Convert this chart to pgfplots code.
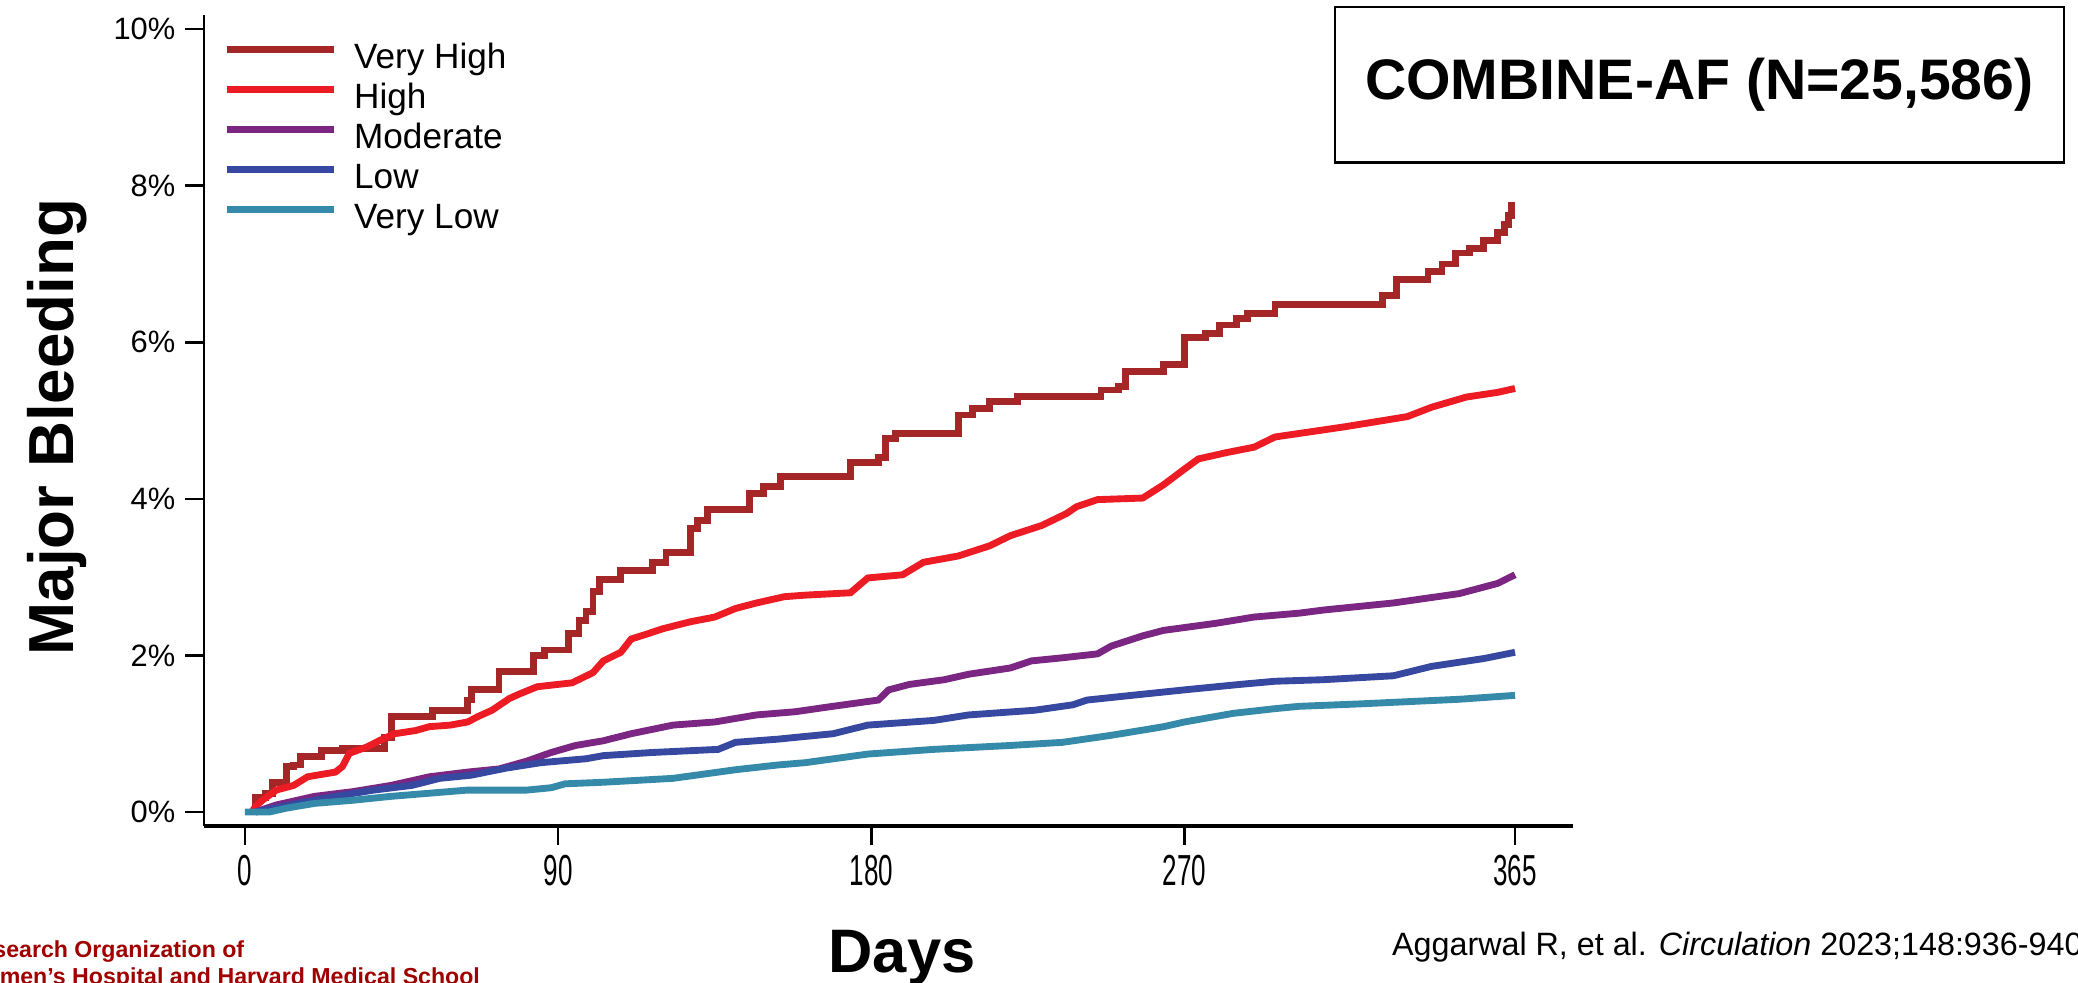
\documentclass[border=0pt]{standalone}
\usepackage{pgfplots}
\pgfplotsset{compat=1.18}
\usepackage{fontspec}
\setmainfont{Liberation Sans}
\definecolor{vhigh}{RGB}{165,38,38}
\definecolor{high}{RGB}{237,28,36}
\definecolor{moder}{RGB}{122,38,130}
\definecolor{low}{RGB}{55,72,160}
\definecolor{vlow}{RGB}{52,138,168}
\definecolor{footred}{RGB}{160,0,0}
\begin{document}
\begin{tikzpicture}
\useasboundingbox (0,0) rectangle (727.3pt,343.7pt);
\clip (0,0) rectangle (727.3pt,343.7pt);
\begin{axis}[
  at={(71.4pt,54.6pt)}, anchor=south west,
  scale only axis, width=479.15pt, height=283.85pt,
  xmin=-11.78, xmax=381.66, ymin=-0.179, ymax=10.18,
  axis lines=left,
  axis line style={-, line width=0.9pt},
  x axis line style={line width=1.4pt},
  tick align=outside, major tick length=6.5pt,
  tick style={line width=0.9pt, black},
  xtick={0,90,180,270,365},
  xticklabels={\scalebox{0.6}[1]{0},\scalebox{0.6}[1]{90},\scalebox{0.6}[1]{180},\scalebox{0.6}[1]{270},\scalebox{0.6}[1]{365}},
  ytick={0,2,4,6,8,10},
  yticklabels={0\%,2\%,4\%,6\%,8\%,10\%},
  yticklabel style={font=\fontsize{10.8}{12}\selectfont},
  xticklabel style={font=\fontsize{15.2}{17}\selectfont},
  legend cell align=left,
  legend style={at={(0.0139,0.9678)}, anchor=north west, draw=none, fill=none,
    inner sep=0pt, row sep=0pt, column sep=6pt,
    font=\fontsize{12.3}{14}\selectfont,
    nodes={inner sep=0pt, text height=9.5pt, text depth=4.5pt}},
  legend image code/.code={\draw[#1, line width=2.2pt] (0pt,4.3pt) -- (37.5pt,4.3pt);},
  every axis plot/.append style={line width=2.4pt},
]
\addplot[vhigh, const plot] coordinates {
(2,0) (3,0.19) (6,0.24) (8,0.38) (12,0.58) (14,0.60) (16,0.71) (22,0.79) (28,0.81)
(40,0.95) (42,1.22) (54,1.30) (60,1.30) (64,1.43) (65,1.56) (73,1.79) (83,2.0) (86,2.07)
(93,2.28) (96,2.45) (98,2.56) (100,2.82) (102,2.97) (108,3.08) (117,3.19) (121,3.32)
(128,3.62) (130,3.72) (133,3.86) (145,4.07) (149,4.16) (154,4.29) (174,4.46) (182,4.53)
(184,4.77) (187,4.83) (205,5.07) (209,5.15) (214,5.24) (222,5.31) (246,5.39) (251,5.44)
(253,5.63) (264,5.72) (270,6.06) (276,6.11) (280,6.22) (285,6.30) (288,6.37) (296,6.48)
(327,6.60) (331,6.80) (340,6.90) (344,7.00) (348,7.14) (352,7.20) (356,7.30) (360,7.40)
(362,7.50) (363,7.62) (364,7.75) (365,7.75)};
\addlegendentry{Very High}
\addplot[high] coordinates {
(2,0) (3,0.07) (5,0.15) (9,0.28) (14,0.34) (18,0.45) (26,0.51) (28,0.58) (30,0.75)
(35,0.83) (39,0.92) (43,1.0) (49,1.04) (53,1.09) (59,1.11) (64,1.15) (67,1.22) (71,1.30)
(76,1.45) (79,1.51) (84,1.60) (94,1.65) (100,1.78) (103,1.93) (108,2.04) (111,2.21)
(116,2.28) (120,2.34) (128,2.43) (135,2.49) (141,2.60) (147,2.67) (155,2.75) (161,2.77)
(174,2.80) (179,2.99) (189,3.03) (195,3.19) (205,3.27) (214,3.40) (220,3.53) (229,3.66)
(236,3.81) (239,3.90) (245,3.99) (258,4.01) (264,4.18) (270,4.38) (274,4.51) (282,4.59)
(290,4.66) (296,4.79) (316,4.92) (334,5.05) (341,5.17) (351,5.30) (360,5.36) (365,5.41)};
\addlegendentry{High}
\addplot[moder] coordinates {
(3,0) (9,0.09) (20,0.20) (31,0.26) (42,0.34) (53,0.45) (64,0.51) (73,0.55) (81,0.65)
(88,0.76) (95,0.85) (103,0.91) (111,1.0) (123,1.11) (135,1.15) (147,1.24) (158,1.28)
(169,1.35) (182,1.43) (185,1.56) (191,1.63) (201,1.69) (208,1.76) (220,1.84) (226,1.93)
(235,1.97) (245,2.02) (249,2.12) (258,2.25) (264,2.32) (279,2.41) (290,2.49) (303,2.54)
(310,2.58) (330,2.67) (349,2.79) (360,2.92) (365,3.03)};
\addlegendentry{Moderate}
\addplot[low] coordinates {
(3,0) (15,0.11) (26,0.20) (37,0.28) (48,0.34) (56,0.43) (65,0.47) (75,0.56) (85,0.63)
(98,0.68) (103,0.72) (117,0.76) (136,0.80) (141,0.89) (153,0.93) (169,1.0) (179,1.11)
(198,1.17) (208,1.24) (227,1.30) (238,1.37) (242,1.43) (257,1.50) (270,1.56) (286,1.63)
(296,1.67) (310,1.69) (330,1.74) (341,1.86) (356,1.96) (365,2.04)};
\addlegendentry{Low}
\addplot[vlow] coordinates {
(0,0) (7,0) (12,0.05) (20,0.11) (31,0.15) (42,0.20) (53,0.24) (64,0.28) (81,0.28)
(88,0.31) (92,0.36) (103,0.38) (123,0.43) (141,0.54) (153,0.60) (161,0.63) (179,0.74)
(198,0.80) (220,0.85) (235,0.89) (249,0.98) (264,1.09) (270,1.15) (284,1.26) (296,1.32)
(303,1.35) (320,1.38) (349,1.44) (365,1.49)};
\addlegendentry{Very Low}
\end{axis}
\node[draw, line width=1pt, minimum width=255.15pt, minimum height=54.25pt, inner sep=0pt,
  font=\fontsize{20}{23}\bfseries\selectfont] at (594.8pt,314.1pt) {COMBINE-AF (N=25,586)};
\node[rotate=90, anchor=base, font=\fontsize{22.3}{25}\bfseries\selectfont] at (25.7pt,194.25pt) {Major Bleeding};
\node[anchor=base, font=\fontsize{21.5}{24}\bfseries\selectfont] at (315.7pt,3.5pt) {Days};
\node[anchor=base west, font=\fontsize{11.3}{13}\selectfont] at (483.7pt,9.45pt) {Aggarwal R, et al. \textit{Circulation} 2023;148:936-940};
\node[anchor=base east, text=footred, font=\fontsize{8.1}{10}\bfseries\selectfont] at (89pt,8.75pt) {Research Organization of};
\node[anchor=base east, text=footred, font=\fontsize{8.1}{10}\bfseries\selectfont] at (171.5pt,-0.7pt) {Women’s Hospital and Harvard Medical School};
\end{tikzpicture}
\end{document}
